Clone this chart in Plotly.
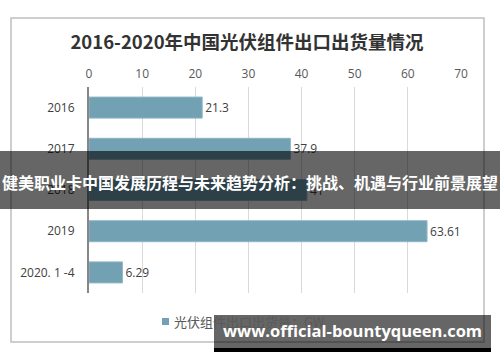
import plotly.graph_objects as go

categories = ["2016", "2017", "2018", "2019", "2020. 1 -4"]
values = [21.3, 37.9, 41.0, 63.61, 6.29]
value_labels = ["21.3", "37.9", "41", "63.61", "6.29"]
x_ticks = [0, 10, 20, 30, 40, 50, 60, 70]

title_text = "2016-2020年中国光伏组件出口出货量情况"
series_name = "光伏组件出口出货量：GW"
banner_text = "健美职业卡中国发展历程与未来趋势分析：挑战、机遇与行业前景展望"
watermark_text = "www.official-bountyqueen.com"

FONT = "Open Sans, Noto Sans CJK SC, sans-serif"
CJK = "Noto Sans CJK SC, sans-serif"
BAR = "#72a1b4"

W, H = 500, 362
L, R, T, B = 89, 39, 87, 69
PW, PH = W - L - R, H - T - B


def px(x):
    return (x - L) / PW


def py(y):
    return (H - B - y) / PH


fig = go.Figure()
fig.add_trace(go.Bar(
    y=categories, x=values, orientation="h",
    marker=dict(color=BAR, line=dict(color="#8fb6c5", width=1)),
    text=value_labels, textposition="outside", cliponaxis=False,
    textfont=dict(family=FONT, size=12, color="#404040"),
    name=series_name, showlegend=False, hoverinfo="skip",
))

fig.update_layout(
    width=W, height=H, autosize=False,
    margin=dict(l=L, r=R, t=T, b=B),
    paper_bgcolor="white", plot_bgcolor="white",
    bargap=0.49,
    font=dict(family=FONT, color="#595959", size=12),
    xaxis=dict(side="top", range=[0, 70], tickvals=x_ticks, showgrid=True,
               gridcolor="#d9d9d9", gridwidth=1, zeroline=False, showline=False,
               ticks="", tickfont=dict(size=12, color="#595959"), ticklabelstandoff=6,
               automargin=False),
    yaxis=dict(categoryorder="array", categoryarray=categories, autorange="reversed",
               showline=True, linecolor="#868686", linewidth=2, ticks="",
               tickfont=dict(size=12, color="#404040"), ticklabelstandoff=10,
               automargin=False),
    showlegend=False,
    title=dict(text="<b>" + title_text + "</b>", x=px(247), xref="paper", xanchor="center",
               y=1 - 43 / H, yanchor="middle",
               font=dict(family=CJK, size=18.5, color="#333333")),
)

# outer chart border
fig.add_shape(type="rect", xref="paper", yref="paper",
              x0=px(11), x1=px(484), y0=py(342), y1=py(18),
              line=dict(color="#bfbfbf", width=1.5), fillcolor="rgba(0,0,0,0)", layer="below")

# legend (square + label)
fig.add_shape(type="rect", xref="paper", yref="paper",
              x0=px(162), x1=px(169), y0=py(325), y1=py(318),
              line=dict(width=0), fillcolor=BAR, layer="above")
fig.add_annotation(xref="paper", yref="paper", x=px(172), y=py(321),
                   text=series_name, showarrow=False,
                   font=dict(family=CJK, size=13, color="#595959"),
                   xanchor="left", yanchor="middle")

# dark overlay banner
fig.add_shape(type="rect", xref="paper", yref="paper",
              x0=px(0), x1=px(500), y0=py(209), y1=py(151),
              line=dict(width=0), fillcolor="rgba(0,0,0,0.6)", layer="above")
fig.add_annotation(xref="paper", yref="paper", x=px(250), y=py(182),
                   text="<b>" + banner_text + "</b>", showarrow=False,
                   font=dict(family=CJK, size=16, color="white"),
                   xanchor="center", yanchor="middle")

# watermark box
fig.add_shape(type="rect", xref="paper", yref="paper",
              x0=px(214), x1=px(491), y0=py(352), y1=py(315),
              line=dict(width=0), fillcolor="rgba(0,0,0,0.6)", layer="above")
fig.add_shape(type="rect", xref="paper", yref="paper",
              x0=px(214), x1=px(491), y0=py(352), y1=py(348),
              line=dict(width=0), fillcolor="black", layer="above")
fig.add_annotation(xref="paper", yref="paper", x=px(352), y=py(330),
                   text="<b>" + watermark_text + "</b>", showarrow=False,
                   font=dict(family="Open Sans, sans-serif", size=16.5, color="white"),
                   xanchor="center", yanchor="middle")

fig.write_html("out.html", config={"displayModeBar": False},
               post_script="document.body.style.margin='0';")
